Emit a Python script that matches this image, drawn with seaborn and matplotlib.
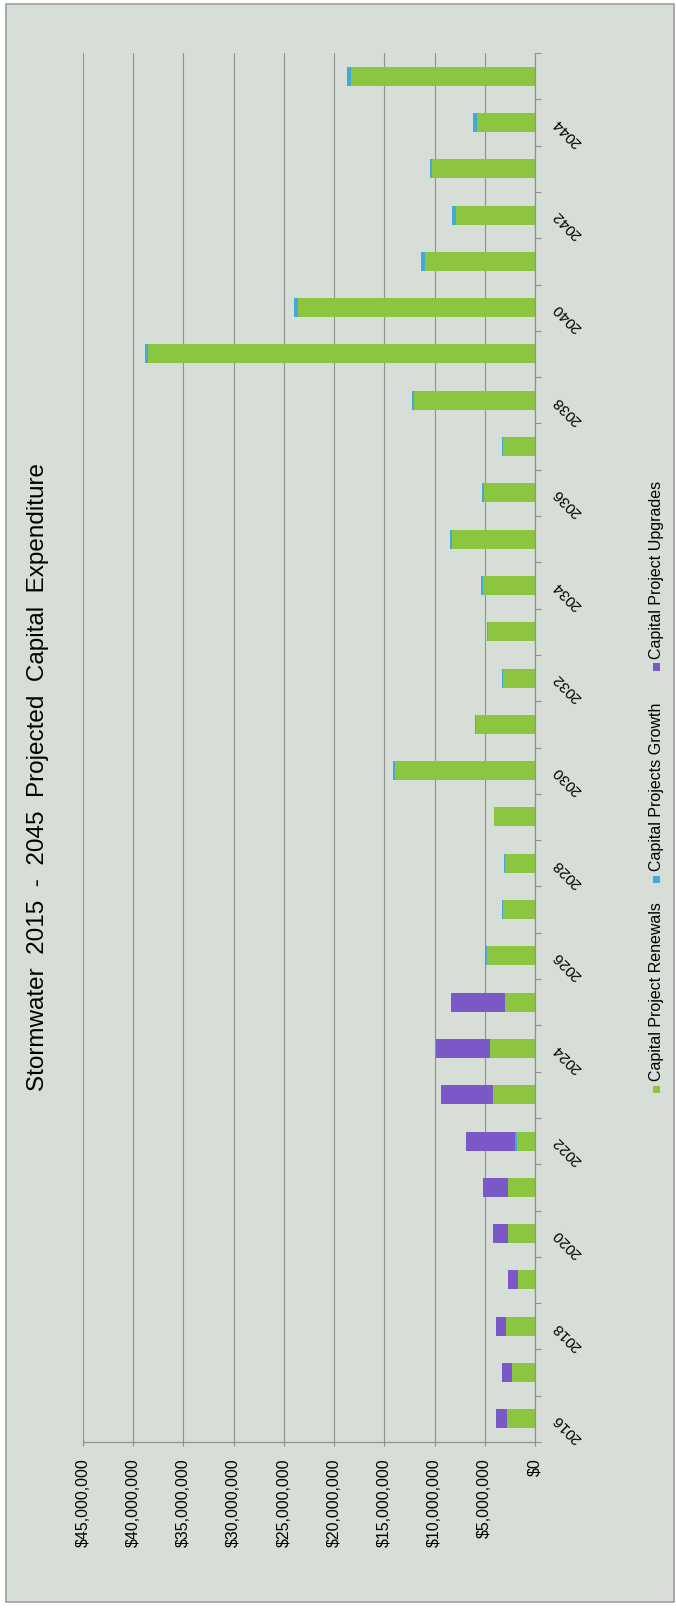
import numpy as np
import pandas as pd
import matplotlib
matplotlib.use("Agg")
import matplotlib.pyplot as plt
import seaborn as sns
from matplotlib.patches import Rectangle

# ---- data (millions of dollars) ----
years = list(range(2016, 2046))
renewals = [2.75, 2.25, 2.90, 1.70, 2.65, 2.65, 1.75, 4.15, 4.45, 3.00,
            4.80, 3.20, 3.00, 4.05, 13.90, 5.85, 3.15, 4.70, 5.20, 8.30,
            5.10, 3.15, 12.00, 38.50, 23.60, 11.00, 7.90, 10.25, 5.80, 18.30]
growth = [0.00, 0.00, 0.00, 0.00, 0.00, 0.00, 0.20, 0.05, 0.00, 0.00,
          0.15, 0.05, 0.05, 0.05, 0.25, 0.15, 0.10, 0.10, 0.15, 0.20,
          0.15, 0.10, 0.20, 0.30, 0.40, 0.35, 0.40, 0.20, 0.40, 0.45]
upgrades = [1.10, 1.00, 0.95, 0.95, 1.50, 2.50, 4.90, 5.15, 5.40, 5.35,
            0, 0, 0, 0, 0, 0, 0, 0, 0, 0,
            0, 0, 0, 0, 0, 0, 0, 0, 0, 0]
value_ticks = list(range(0, 45_000_001, 5_000_000))
labelled_years = list(range(2016, 2046, 2))
series_names = ["Capital Project Renewals", "Capital Projects Growth", "Capital Project Upgrades"]
title = "Stormwater  2015  -  2045  Projected  Capital  Expenditure"

GREEN, BLUE, PURPLE = "#8cc540", "#43a9d6", "#7a58c8"
BG = "#d6ded7"
GRID = "#8e918e"

sns.set_theme(style="white")
plt.rcParams["font.family"] = ["Liberation Sans", "DejaVu Sans"]

df = pd.DataFrame({
    "year": [str(y) for y in years],
    "renewals": np.array(renewals) * 1e6,
    "growth": np.array(growth) * 1e6,
    "upgrades": np.array(upgrades) * 1e6,
})
df["lvl1"] = df["renewals"]
df["lvl2"] = df["lvl1"] + df["growth"]
df["lvl3"] = df["lvl2"] + df["upgrades"]
order = [str(y) for y in reversed(years)]

W, H = 676, 1609
fig = plt.figure(figsize=(W / 100, H / 100), dpi=100)
fig.patch.set_facecolor("white")
fig.add_artist(Rectangle((6 / W, 1 - 1602 / H), (674 - 6) / W, (1602 - 4) / H,
                         transform=fig.transFigure, facecolor=BG,
                         edgecolor="#a2a5a2", lw=1.3, zorder=0))

ax = fig.add_axes([83 / W, 1 - 1442 / H, (535 - 83) / W, (1442 - 53) / H])
ax.set_facecolor("none")

# stacked horizontal bars: draw cumulative totals, top segment first
for col, colr in (("lvl3", PURPLE), ("lvl2", BLUE), ("lvl1", GREEN)):
    sns.barplot(data=df, x=col, y="year", order=order, color=colr,
                saturation=1, width=0.41, linewidth=0, ax=ax, orient="h")

ax.set_xlim(45e6, 0)
ax.set_ylim(len(order) - 0.5, -0.5)
ax.set_xlabel("")
ax.set_ylabel("")

ax.set_xticks(value_ticks)
ax.set_xticklabels(["$0" if v == 0 else f"${v:,.0f}" for v in value_ticks])
ax.xaxis.grid(True, color=GRID, lw=0.8)
ax.set_axisbelow(True)
ax.tick_params(axis="x", bottom=True, length=3, width=0.8, color=GRID,
               labelrotation=90, labelsize=11.5, pad=9, labelcolor="black")

ax.set_yticks([])
ax.set_yticks(np.arange(-0.5, len(order), 1.0), minor=True)
ax.tick_params(axis="y", which="minor", left=False, right=True, length=4,
               width=0.8, color=GRID)

for side in ("top", "left"):
    ax.spines[side].set_visible(False)
for side in ("right", "bottom"):
    ax.spines[side].set_color(GRID)
    ax.spines[side].set_linewidth(0.9)

ytrans = ax.get_yaxis_transform()
for yr in labelled_years:
    ax.text(1.044, order.index(str(yr)) - 0.04, str(yr), transform=ytrans,
            rotation=135, rotation_mode="anchor", ha="right", va="center",
            fontsize=11, color="black")

fig.text(38 / W, 1 - 777 / H, title, rotation=90, ha="center", va="center",
         fontsize=17.5, color="black")

# legend, laid out along the right edge
legend_items = [(series_names[0], GREEN, 1089), (series_names[1], BLUE, 879),
                (series_names[2], PURPLE, 667)]
for name, colr, py in legend_items:
    s = 7
    fig.add_artist(Rectangle(((656 - s / 2) / W, 1 - (py + s / 2) / H), s / W, s / H,
                             transform=fig.transFigure, facecolor=colr,
                             edgecolor="none"))
    fig.text(656 / W, 1 - (py - 8) / H, name, rotation=90, ha="center",
             va="bottom", fontsize=11.5, color="black")

fig.savefig("out.png", dpi=100)
